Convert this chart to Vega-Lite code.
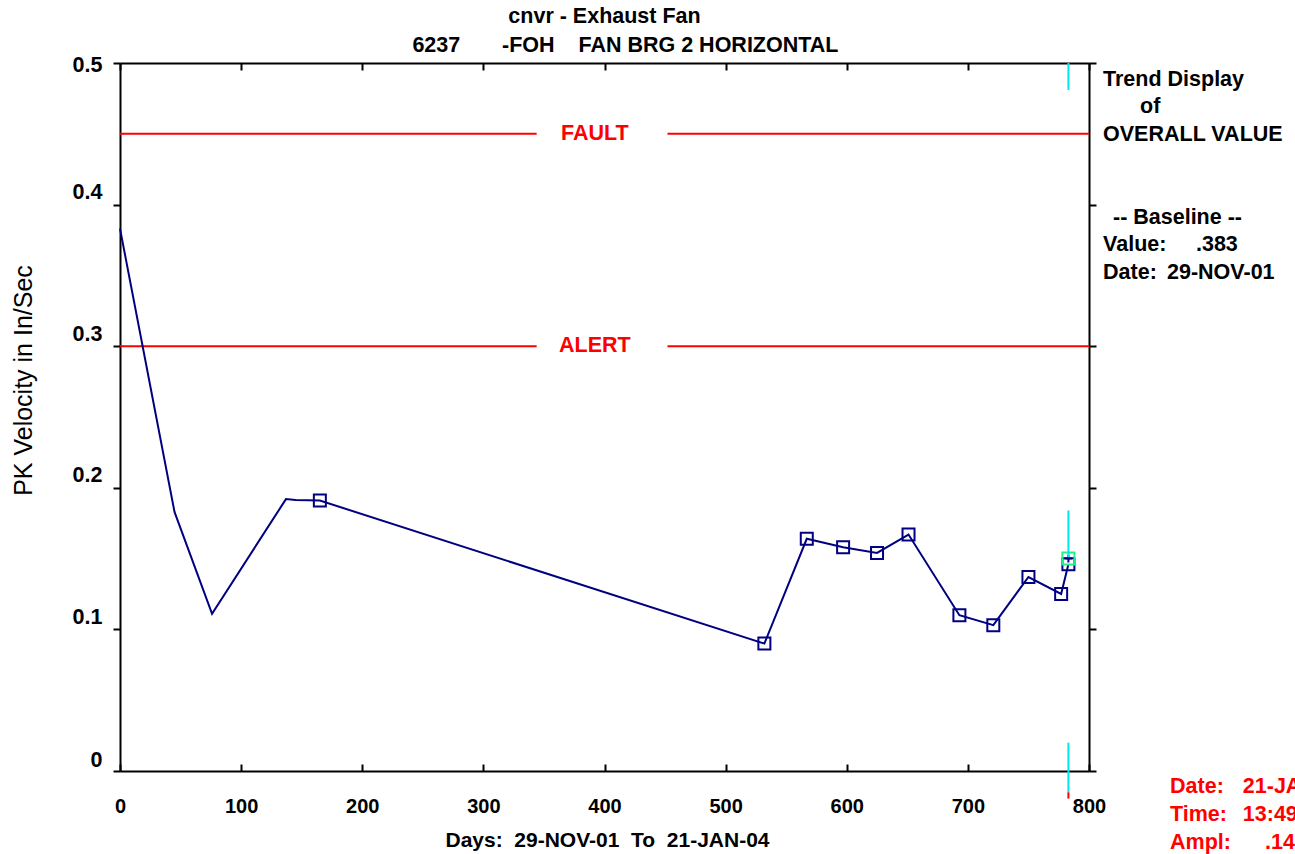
{
  "$schema": "https://vega.github.io/schema/vega-lite/v6.json",
  "width": 969,
  "height": 708,
  "autosize": {"type": "none"},
  "padding": {"left": 120, "top": 63, "right": 206, "bottom": 83},
  "background": "white",
  "title": {
    "text": ["cnvr - Exhaust Fan", "\u200b\u00a0\u00a0\u00a0\u00a0\u00a0\u00a0\u00a06237\u00a0\u00a0\u00a0\u00a0\u00a0\u00a0\u00a0-FOH\u00a0\u00a0\u00a0\u00a0FAN BRG 2 HORIZONTAL"],
    "anchor": "middle",
    "frame": "group",
    "font": "Liberation Sans",
    "fontSize": 21.5,
    "fontWeight": "bold",
    "color": "black",
    "lineHeight": 29,
    "offset": -2
  },
  "datasets": {
    "trend": [
      {"day": 0, "value": 0.383},
      {"day": 45, "value": 0.183},
      {"day": 76, "value": 0.111},
      {"day": 137, "value": 0.192},
      {"day": 145, "value": 0.1914},
      {"day": 165, "value": 0.191},
      {"day": 532, "value": 0.09},
      {"day": 567, "value": 0.164},
      {"day": 597, "value": 0.158},
      {"day": 625, "value": 0.154},
      {"day": 651, "value": 0.167},
      {"day": 693, "value": 0.11},
      {"day": 721, "value": 0.103},
      {"day": 750, "value": 0.137},
      {"day": 777, "value": 0.125},
      {"day": 783, "value": 0.146}
    ],
    "cursor": [{"day": 783, "value": 0.15}],
    "alarms": [
      {"label": "FAULT", "level": 0.45, "from": 0, "to": 344},
      {"label": "FAULT", "level": 0.45, "from": 452, "to": 800},
      {"label": "ALERT", "level": 0.3, "from": 0, "to": 344},
      {"label": "ALERT", "level": 0.3, "from": 452, "to": 800}
    ],
    "alarmLabels": [
      {"label": "FAULT", "level": 0.45, "at": 392},
      {"label": "ALERT", "level": 0.3, "at": 392}
    ],
    "cursorLine": [
      {"day": 783, "lo": 0.481, "hi": 0.5},
      {"day": 783, "lo": 0.151, "hi": 0.184},
      {"day": 783, "lo": -0.015, "hi": 0.02}
    ],
    "cursorFoot": [{"day": 783, "lo": -0.0195, "hi": -0.015}],
    "notes": [
      {"text": "Trend Display", "day": 811.6, "value": 0.488, "kind": "info"},
      {"text": "of", "day": 842.1, "value": 0.4689, "kind": "info"},
      {"text": "OVERALL VALUE", "day": 811.6, "value": 0.4492, "kind": "info"},
      {"text": "-- Baseline --", "day": 819.8, "value": 0.3905, "kind": "info"},
      {"text": "Value:", "day": 811.6, "value": 0.3715, "kind": "info"},
      {"text": ".383", "day": 888.3, "value": 0.3715, "kind": "info"},
      {"text": "Date:", "day": 811.6, "value": 0.3517, "kind": "info"},
      {"text": "29-NOV-01", "day": 864.4, "value": 0.3517, "kind": "info"},
      {"text": "Date:", "day": 866.9, "value": -0.0113, "kind": "cursor"},
      {"text": "21-JAN-04", "day": 927, "value": -0.0113, "kind": "cursor"},
      {"text": "Time:", "day": 866.9, "value": -0.0311, "kind": "cursor"},
      {"text": "13:49:00", "day": 927, "value": -0.0311, "kind": "cursor"},
      {"text": "Ampl:", "day": 866.9, "value": -0.0508, "kind": "cursor"},
      {"text": ".146", "day": 945.3, "value": -0.0508, "kind": "cursor"}
    ]
  },
  "layer": [
    {
      "data": {"name": "alarms"},
      "mark": {"type": "rule", "color": "#ff0000", "strokeWidth": 2},
      "encoding": {
        "x": {"field": "from", "type": "quantitative", "scale": {"domain": [0, 800], "nice": false, "zero": false}, "axis": null},
        "x2": {"field": "to"},
        "y": {"field": "level", "type": "quantitative", "scale": {"domain": [0, 0.5], "nice": false}, "axis": null}
      }
    },
    {
      "data": {"name": "alarmLabels"},
      "mark": {"type": "text", "color": "#ff0000", "font": "Liberation Sans", "fontSize": 21.5, "fontWeight": "bold", "align": "center", "baseline": "middle"},
      "encoding": {
        "x": {"field": "at", "type": "quantitative", "axis": null},
        "y": {"field": "level", "type": "quantitative", "axis": null},
        "text": {"field": "label"}
      }
    },
    {
      "data": {"name": "trend"},
      "mark": {"type": "line", "color": "#000080", "strokeWidth": 2},
      "encoding": {
        "x": {
          "field": "day", "type": "quantitative",
          "axis": {
            "orient": "bottom",
            "values": [0, 100, 200, 300, 400, 500, 600, 700, 800],
            "tickSize": -7,
            "labelPadding": 42,
            "labelBaseline": "middle",
            "title": "Days:\u00a0\u00a029-NOV-01\u00a0\u00a0To\u00a0\u00a021-JAN-04",
            "titleX": 487,
            "titleY": 69,
            "titleBaseline": "middle",
            "titleAlign": "center",
            "titleFontSize": 21,
            "titleFontWeight": "bold"
          }
        },
        "y": {
          "field": "value", "type": "quantitative",
          "axis": {
            "orient": "left",
            "values": [0, 0.1, 0.2, 0.3, 0.4, 0.5],
            "format": ".1~f",
            "tickSize": 7,
            "labelPadding": 11,
            "labelFontSize": 21.5,
            "labelBaseline": "middle",
            "labelOffset": {"condition": [{"test": "datum.value == 0.5", "value": 2}, {"test": "datum.value == 0", "value": -11}], "value": -12},
            "title": "PK Velocity in In/Sec",
            "titleX": -97,
            "titleY": 317,
            "titleAngle": -90,
            "titleAlign": "center",
            "titleBaseline": "middle",
            "titleFontSize": 25,
            "titleFontWeight": "normal"
          }
        }
      }
    },
    {
      "data": {"name": "trend"},
      "transform": [{"filter": "datum.day >= 160"}],
      "mark": {"type": "point", "shape": "square", "size": 144, "filled": false, "stroke": "#000080", "strokeWidth": 2, "opacity": 1},
      "encoding": {
        "x": {"field": "day", "type": "quantitative", "axis": null},
        "y": {"field": "value", "type": "quantitative", "axis": null}
      }
    },
    {
      "data": {"name": "cursor"},
      "mark": {"type": "point", "shape": "square", "size": 144, "filled": false, "stroke": "#20f090", "strokeWidth": 2, "opacity": 1},
      "encoding": {
        "x": {"field": "day", "type": "quantitative", "axis": null},
        "y": {"field": "value", "type": "quantitative", "axis": null}
      }
    },
    {
      "data": {"name": "cursor"},
      "mark": {"type": "point", "shape": "M-1,0L1,0M0,-1L0,1", "size": 60, "filled": false, "stroke": "#000080", "strokeWidth": 2, "opacity": 1},
      "encoding": {
        "x": {"field": "day", "type": "quantitative", "axis": null},
        "y": {"field": "value", "type": "quantitative", "axis": null}
      }
    },
    {
      "data": {"name": "cursorLine"},
      "mark": {"type": "rule", "color": "#00e5ee", "strokeWidth": 2},
      "encoding": {
        "x": {
          "field": "day", "type": "quantitative",
          "axis": {"orient": "top", "values": [0, 100, 200, 300, 400, 500, 600, 700, 800], "tickSize": -7, "labels": false, "title": null}
        },
        "y": {
          "field": "lo", "type": "quantitative",
          "axis": {"orient": "right", "values": [0, 0.1, 0.2, 0.3, 0.4, 0.5], "tickSize": 7, "labels": false, "title": null}
        },
        "y2": {"field": "hi"}
      }
    },
    {
      "data": {"name": "cursorFoot"},
      "mark": {"type": "rule", "color": "#ff0000", "strokeWidth": 2},
      "encoding": {
        "x": {"field": "day", "type": "quantitative", "axis": null},
        "y": {"field": "lo", "type": "quantitative", "axis": null},
        "y2": {"field": "hi"}
      }
    },
    {
      "data": {"name": "notes"},
      "mark": {"type": "text", "font": "Liberation Sans", "fontSize": 21.5, "fontWeight": "bold", "align": "left", "baseline": "middle"},
      "encoding": {
        "x": {"field": "day", "type": "quantitative", "axis": null},
        "y": {"field": "value", "type": "quantitative", "axis": null},
        "text": {"field": "text"},
        "color": {"field": "kind", "type": "nominal", "scale": {"domain": ["info", "cursor"], "range": ["black", "#ff0000"]}, "legend": null}
      }
    }
  ],
  "resolve": {"axis": {"x": "independent", "y": "independent"}},
  "config": {
    "view": {"stroke": null},
    "axis": {
      "grid": false,
      "domainColor": "black",
      "domainWidth": 2,
      "tickColor": "black",
      "tickWidth": 2,
      "labelFont": "Liberation Sans",
      "labelFontSize": 20,
      "labelFontWeight": "bold",
      "labelColor": "black",
      "titleFont": "Liberation Sans",
      "titleColor": "black",
      "labelFlush": false,
      "labelOverlap": false
    }
  }
}
